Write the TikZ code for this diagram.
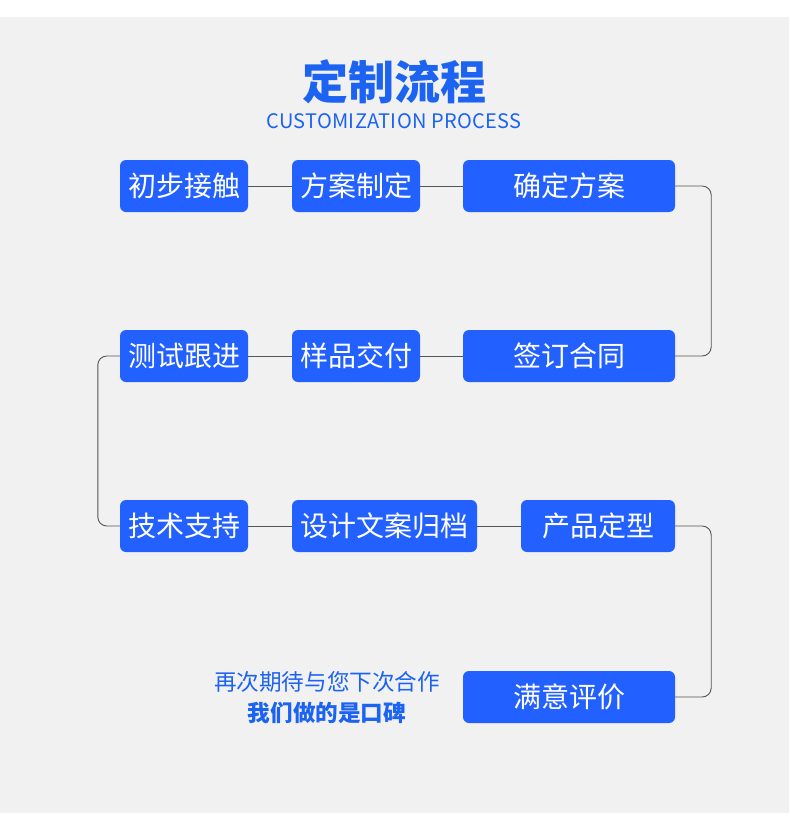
\documentclass[tikz,border=0pt]{standalone}
\usepackage{fontspec}
\setmainfont{Noto Sans CJK SC}
\definecolor{bggray}{RGB}{241,241,241}
\definecolor{boxblue}{RGB}{34,96,255}
\definecolor{titleblue}{RGB}{28,99,242}
\definecolor{linegray}{RGB}{85,85,85}
\tikzset{
  flowbox/.style={fill=boxblue, rounded corners=6pt, text=white, inner sep=0pt,
    minimum height=52pt, font=\fontsize{28}{28}\selectfont},
  conn/.style={draw=linegray, line width=0.9pt},
  elbow/.style={conn, rounded corners=9pt}
}
\begin{document}
\begin{tikzpicture}[x=1pt,y=-1pt]
\useasboundingbox (0,0) rectangle (790,825);
\fill[white] (0,0) rectangle (790,825);
\fill[bggray] (0,17) rectangle (789,813);
\node[text=titleblue, font=\fontsize{46}{46}\selectfont\bfseries] (title) at (394,82) {定制流程};
\node[text=titleblue, font=\fontsize{20}{20}\selectfont\addfontfeatures{LetterSpace=1.5}] (sub) at (394,121) {CUSTOMIZATION PROCESS};
\node[flowbox, minimum width=128pt] (n1) at (184,186) {初步接触};
\node[flowbox, minimum width=128pt] (n2) at (356,186) {方案制定};
\node[flowbox, minimum width=212pt] (n3) at (569,186) {确定方案};
\node[flowbox, minimum width=212pt] (n4) at (569,356) {签订合同};
\node[flowbox, minimum width=128pt] (n5) at (356,356) {样品交付};
\node[flowbox, minimum width=128pt] (n6) at (184,356) {测试跟进};
\node[flowbox, minimum width=128pt] (n7) at (184,526) {技术支持};
\node[flowbox, minimum width=185pt] (n8) at (384.5,526) {设计文案归档};
\node[flowbox, minimum width=154pt] (n9) at (598,526) {产品定型};
\node[flowbox, minimum width=212pt] (n10) at (569,697) {满意评价};
\node[text=titleblue, font=\fontsize{22.6}{22.6}\selectfont] (m1) at (327,682) {再次期待与您下次合作};
\node[text=titleblue, font=\fontsize{22.6}{22.6}\selectfont\bfseries] (m2) at (327,713) {我们做的是口碑};
\draw[conn] (n1) -- (n2);
\draw[conn] (n2) -- (n3);
\draw[elbow] (n3.east) -| ([xshift=36pt]n4.east) -- (n4.east);
\draw[conn] (n4) -- (n5);
\draw[conn] (n5) -- (n6);
\draw[elbow] (n6.west) -| ([xshift=-22pt]n7.west) -- (n7.west);
\draw[conn] (n7) -- (n8);
\draw[conn] (n8) -- (n9);
\draw[elbow] (n9.east) -| ([xshift=36pt]n10.east) -- (n10.east);
\end{tikzpicture}
\end{document}
